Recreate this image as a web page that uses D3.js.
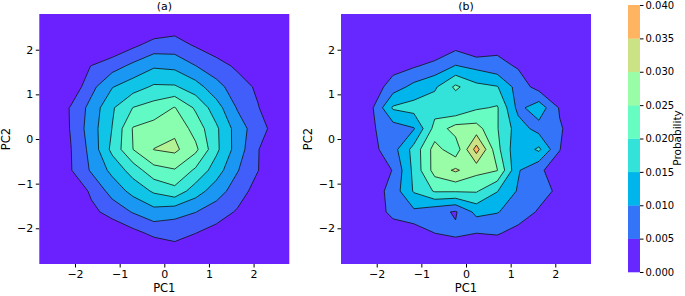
<!DOCTYPE html>
<html>
<head>
<meta charset="utf-8">
<script src="https://cdn.jsdelivr.net/npm/d3@7"></script>
<style>
  body { margin: 0; background: #fff; }
  svg { font-family: "DejaVu Sans", sans-serif; }
</style>
</head>
<body>
<svg id="chart" width="685" height="296"></svg>
<script>
// 12x12 histogram of PC1/PC2, bin centres; row 0 = top (highest PC2)
const pcRange = [-2.8, 2.8];
const axisTicks = [-2, -1, 0, 1, 2];
const levelsA = [0, 0.004, 0.008, 0.012, 0.016, 0.020, 0.024, 0.028, 0.032];
const levelsB = [0, 0.005, 0.010, 0.015, 0.020, 0.025, 0.030, 0.035, 0.040];
const colourMax = 0.05;

const probA = [
    [0, 0, 0, 0, 0, .0004, .0019, 0, 0, 0, 0, 0],
    [0, 0, 0, .0008, .0032, .0056, .0057, .0036, .0016, 0, 0, 0],
    [0, .0017, .0041, .0063, .0090, .0115, .0110, .0081, .0057, .0033, .0009, 0],
    [0, .0009, .0068, .0118, .0142, .0166, .0165, .0138, .0094, .0059, .0033, .0007],
    [0, .0043, .0094, .0155, .0201, .0217, .0242, .0194, .0138, .0077, .0042, .0007],
    [0, .0042, .0101, .0161, .0243, .0256, .0272, .0224, .0167, .0102, .0056, .0021],
    [0, .0038, .0093, .0171, .0240, .0281, .0289, .0250, .0169, .0102, .0042, 0],
    [0, .0037, .0085, .0131, .0178, .0226, .0237, .0193, .0139, .0083, .0041, 0],
    [0, 0, .0048, .0095, .0133, .0166, .0187, .0139, .0099, .0060, .0023, 0],
    [0, 0, .0029, .0056, .0083, .0106, .0094, .0081, .0059, .0036, .0013, 0],
    [0, 0, 0, .0008, .0029, .0050, .0054, .0041, .0026, .0012, 0, 0],
    [0, 0, 0, 0, 0, .0003, .0021, .0010, .0005, 0, 0, 0]
];

const probB = [
    [0, 0, 0, 0, 0, .0008, 0, .0005, 0, 0, 0, 0],
    [0, 0, 0, 0, .0005, .0032, .0002, .0035, .0010, 0, 0, 0],
    [0, .0010, .0030, .0045, .0066, .0103, .0086, .0066, .0045, .0010, 0, 0],
    [0, .0020, .0075, .0115, .0142, .0210, .0165, .0153, .0079, .0030, 0, 0],
    [0, .0045, .0157, .0170, .0180, .0155, .0193, .0205, .0085, .0130, .0045, 0],
    [0, .0045, .0075, .0097, .0217, .0272, .0270, .0203, .0125, .0080, .0055, .0020],
    [0, .0035, .0081, .0168, .0270, .0217, .0371, .0215, .0110, .0160, .0051, .0010],
    [0, .0020, .0052, .0164, .0270, .0308, .0265, .0252, .0105, .0055, .0035, 0],
    [0, .0020, .0072, .0155, .0205, .0205, .0205, .0152, .0095, .0068, .0040, .0010],
    [0, .0030, .0060, .0090, .0065, .0045, .0115, .0103, .0075, .0045, .0015, 0],
    [0, 0, .0030, .0020, .0051, .0058, .0051, .0055, .0035, .0015, 0, 0],
    [0, 0, 0, 0, .0005, .0020, .0008, .0010, 0, 0, 0, 0]
];

const svg = d3.select("#chart");
const axTop = 14, side = 250;

// matplotlib "rainbow"
function rainbow(t) {
    const r = Math.min(1, Math.abs(2 * t - 0.5));
    const g = Math.sin(Math.PI * t);
    const b = Math.cos(Math.PI * t / 2);
    return d3.rgb(r * 255, g * 255, b * 255).formatHex();
}

function bandColour(levels, i) {
    return rainbow((levels[i] + levels[i + 1]) / 2 / colourMax);
}

function drawPanel(values, levels, left, title) {
    const x = d3.scaleLinear().domain(pcRange).range([left, left + side]);
    const y = d3.scaleLinear().domain(pcRange).range([axTop + side, axTop]);
    const n = values.length;
    const cell = (pcRange[1] - pcRange[0]) / n;

    const proj = d3.geoTransform({
        point: function(gx, gy) {
            this.stream.point(x(pcRange[0] + gx * cell), y(pcRange[1] - gy * cell));
        }
    });
    const path = d3.geoPath(proj);

    const bands = d3.contours()
        .size([n, n])
        .thresholds(levels.slice(1, -1))(values.flat());

    const g = svg.append("g");

    g.append("rect")
        .attr("x", left).attr("y", axTop)
        .attr("width", side).attr("height", side)
        .attr("fill", bandColour(levels, 0));

    g.selectAll(".band")
        .data(bands)
        .enter().append("path")
        .attr("class", "band")
        .attr("d", path)
        .attr("fill", (d, i) => bandColour(levels, i + 1));

    g.selectAll(".iso")
        .data(bands)
        .enter().append("path")
        .attr("class", "iso")
        .attr("d", path)
        .attr("fill", "none")
        .attr("stroke", "#111")
        .attr("stroke-width", 0.8)
        .attr("stroke-linejoin", "round");

    const xAxis = svg.append("g")
        .attr("transform", "translate(0," + (axTop + side) + ")")
        .call(d3.axisBottom(x).tickValues(axisTicks).tickFormat(d3.format("d")).tickSize(3.5).tickPadding(2.5))
        .attr("font-size", 11)
        .attr("font-family", null);
    xAxis.select(".domain").remove();

    const yAxis = svg.append("g")
        .attr("transform", "translate(" + left + ",0)")
        .call(d3.axisLeft(y).tickValues(axisTicks).tickFormat(d3.format("d")).tickSize(3.5).tickPadding(2.5))
        .attr("font-size", 11)
        .attr("font-family", null);
    yAxis.select(".domain").remove();

    svg.append("text")
        .attr("x", left + side / 2)
        .attr("y", 292)
        .attr("text-anchor", "middle")
        .attr("font-size", 11.5)
        .text("PC1");

    svg.append("text")
        .attr("transform", "translate(" + (left - 29) + "," + (axTop + side / 2) + ") rotate(-90)")
        .attr("text-anchor", "middle")
        .attr("font-size", 11.5)
        .text("PC2");

    svg.append("text")
        .attr("x", left + side / 2)
        .attr("y", 10)
        .attr("text-anchor", "middle")
        .attr("font-size", 11)
        .text(title);
}

drawPanel(probA, levelsA, 39.3, "(a)");
drawPanel(probB, levelsB, 341, "(b)");

// colourbar for panel (b)
const cbX = 628, cbW = 12;
const cy = d3.scaleLinear().domain([levelsB[0], levelsB[levelsB.length - 1]]).range([272, 5]);

svg.selectAll(".cb")
    .data(d3.range(levelsB.length - 1))
    .enter().append("rect")
    .attr("class", "cb")
    .attr("x", cbX)
    .attr("width", cbW)
    .attr("y", i => cy(levelsB[i + 1]))
    .attr("height", i => cy(levelsB[i]) - cy(levelsB[i + 1]) + 0.3)
    .attr("fill", i => bandColour(levelsB, i));

const cbAxis = svg.append("g")
    .attr("transform", "translate(" + (cbX + cbW) + ",0)")
    .call(d3.axisRight(cy).tickValues(levelsB).tickFormat(d3.format(".3f")).tickSize(3.5).tickPadding(2))
    .attr("font-size", 10)
    .attr("font-family", null);
cbAxis.select(".domain").remove();

svg.append("text")
    .attr("transform", "translate(681,138) rotate(-90)")
    .attr("text-anchor", "middle")
    .attr("font-size", 10.5)
    .text("Probability");
</script>
</body>
</html>
